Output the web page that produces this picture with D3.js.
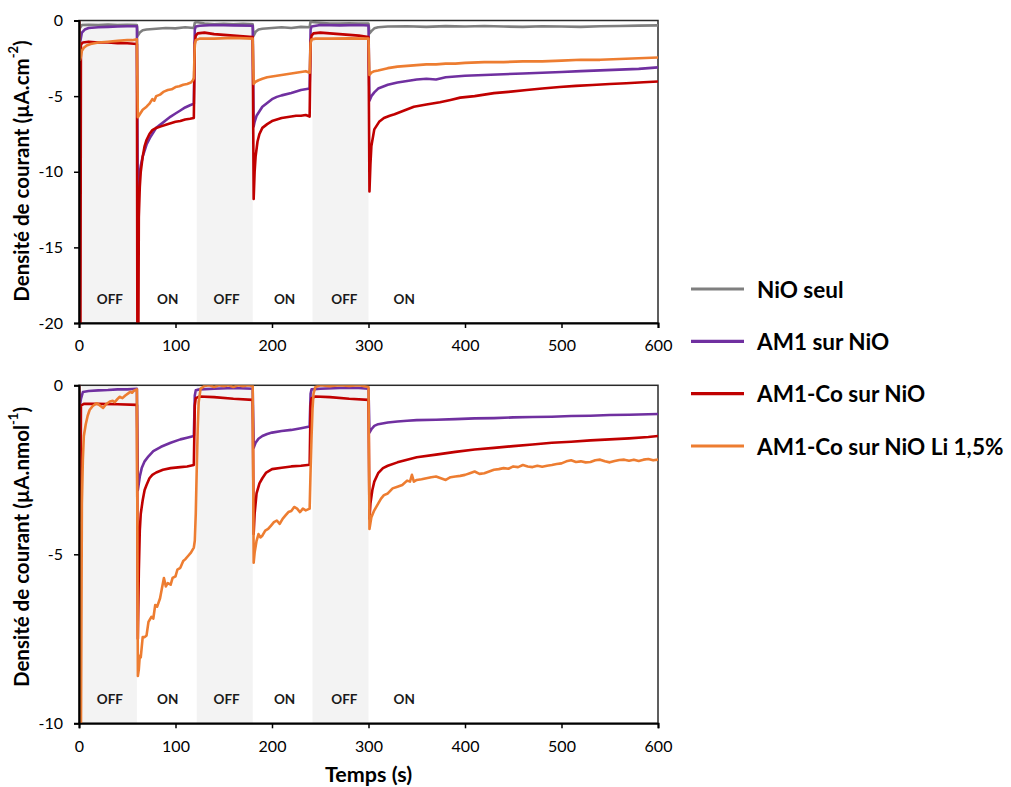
<!DOCTYPE html>
<html><head><meta charset="utf-8">
<script src="https://cdn.jsdelivr.net/npm/d3@7"></script>
<style>body{margin:0;background:#fff;} svg{display:block;}</style>
</head><body>
<svg id="c" width="1011" height="787"></svg>
<script>
// ---------- data ----------
const seriesNames = ["NiO seul", "AM1 sur NiO", "AM1-Co sur NiO", "AM1-Co sur NiO Li 1,5%"];
const seriesColors = ["#7f7f7f", "#7030a0", "#c00000", "#ed7d31"];
const xTicks = [0, 100, 200, 300, 400, 500, 600];
const yTicksTop = [0, -5, -10, -15, -20];
const yTicksBottom = [0, -5, -10];
const offBands = [[3, 60], [122, 180], [242, 300]];
const phaseLabels = ["OFF", "ON", "OFF", "ON", "OFF", "ON"];
const phaseLabelTimes = [32, 92, 153, 213, 275, 337];

// top panel (µA.cm-2) : [time s, current]
const topNiO = [[0,0],[1,-0.5],[3,-0.3],[10,-0.28],[20,-0.3],[30,-0.27],[40,-0.3],[50,-0.28],[60,-0.3],[61,-1.0],[63,-0.8],[66,-0.65],[70,-0.6],[80,-0.55],[90,-0.5],[100,-0.52],[110,-0.45],[119,-0.5],[120,-0.15],[122,-0.1],[130,-0.2],[140,-0.25],[150,-0.22],[160,-0.25],[170,-0.22],[180,-0.25],[181,-1.0],[183,-0.75],[186,-0.6],[190,-0.55],[200,-0.5],[210,-0.45],[220,-0.5],[230,-0.42],[239,-0.45],[240,-0.05],[242,-0.1],[250,-0.15],[260,-0.2],[270,-0.2],[280,-0.18],[290,-0.2],[300,-0.2],[301,-0.85],[303,-0.7],[306,-0.52],[310,-0.45],[320,-0.4],[340,-0.38],[360,-0.42],[380,-0.37],[400,-0.4],[420,-0.36],[440,-0.4],[460,-0.42],[480,-0.38],[500,-0.4],[520,-0.42],[540,-0.38],[560,-0.36],[580,-0.34],[600,-0.32]];
const topAM1 = [[0,0],[1,-1.5],[3,-0.8],[6,-0.6],[10,-0.5],[20,-0.45],[30,-0.42],[40,-0.4],[50,-0.38],[60,-0.38],[61,-11.8],[62,-10.5],[64,-9.6],[66,-9.0],[70,-8.2],[74,-7.7],[80,-7.1],[85,-6.85],[90,-6.6],[95,-6.35],[100,-6.15],[105,-5.95],[110,-5.75],[115,-5.6],[119,-5.5],[120,-0.6],[121,-0.4],[125,-0.35],[140,-0.3],[160,-0.32],[180,-0.35],[181,-7.0],[182,-6.7],[184,-6.3],[187,-6.0],[190,-5.7],[195,-5.45],[200,-5.2],[205,-5.05],[210,-4.95],[220,-4.8],[230,-4.6],[239,-4.5],[240,-0.6],[241,-0.4],[250,-0.3],[270,-0.32],[290,-0.3],[300,-0.33],[301,-5.3],[303,-5.0],[306,-4.75],[310,-4.5],[320,-4.25],[330,-4.1],[340,-4.0],[350,-3.9],[360,-3.85],[370,-3.9],[380,-3.75],[390,-3.7],[400,-3.65],[420,-3.6],[440,-3.55],[460,-3.5],[480,-3.45],[500,-3.4],[520,-3.35],[540,-3.3],[560,-3.25],[580,-3.2],[600,-3.1]];
const topAM1Co = [[0,0],[0.5,-20.5],[1.5,-20.5],[2,-1.6],[4,-1.45],[10,-1.4],[20,-1.45],[30,-1.45],[40,-1.5],[50,-1.5],[60,-1.55],[60.5,-21],[61.5,-21],[62,-13],[63,-11],[64,-10],[66,-9],[68,-8.3],[70,-7.9],[73,-7.5],[76,-7.25],[80,-7.1],[85,-7.0],[90,-6.9],[95,-6.8],[100,-6.7],[105,-6.65],[110,-6.55],[115,-6.5],[119,-6.45],[120,-1.5],[121,-1.0],[123,-0.85],[130,-0.8],[140,-0.9],[150,-0.95],[160,-1.0],[170,-1.05],[180,-1.1],[181,-11.8],[182,-10],[183,-9],[185,-8],[187,-7.5],[190,-7.1],[195,-6.85],[200,-6.65],[205,-6.55],[210,-6.45],[215,-6.4],[220,-6.35],[225,-6.3],[230,-6.3],[235,-6.25],[239,-6.35],[240,-1.5],[241,-1.0],[243,-0.85],[250,-0.8],[260,-0.85],[270,-0.9],[280,-0.95],[290,-1.0],[300,-1.1],[301,-11.3],[302,-9.5],[303,-8.3],[306,-7.2],[311,-6.7],[316,-6.45],[322,-6.3],[327,-6.2],[335,-6.0],[347,-5.7],[360,-5.55],[374,-5.4],[385,-5.25],[395,-5.1],[410,-5.0],[430,-4.8],[445,-4.72],[464,-4.6],[480,-4.5],[498,-4.4],[515,-4.32],[532,-4.26],[550,-4.2],[567,-4.15],[585,-4.08],[600,-4.03]];
const topLi = [[0,0],[1,-2.6],[2,-2.4],[3,-2.0],[5,-1.8],[8,-1.65],[12,-1.55],[20,-1.45],[30,-1.4],[40,-1.35],[50,-1.3],[55,-1.3],[60,-1.25],[61,-6.4],[63,-6.2],[66,-5.9],[70,-5.7],[73,-5.5],[76,-5.2],[78,-5.3],[80,-5.0],[84,-4.9],[88,-4.7],[92,-4.6],[96,-4.55],[100,-4.4],[104,-4.35],[108,-4.25],[112,-4.2],[116,-4.1],[118,-3.95],[119,-3.8],[120,-1.6],[121,-1.3],[125,-1.2],[140,-1.2],[160,-1.15],[180,-1.2],[181,-4.2],[183,-4.05],[186,-3.95],[190,-3.85],[195,-3.75],[200,-3.7],[205,-3.65],[210,-3.6],[215,-3.55],[220,-3.5],[225,-3.45],[230,-3.4],[235,-3.35],[239,-3.45],[240,-1.5],[241,-1.25],[245,-1.2],[260,-1.2],[280,-1.18],[300,-1.2],[301,-3.6],[303,-3.45],[306,-3.35],[310,-3.3],[320,-3.15],[330,-3.05],[340,-3.0],[350,-2.95],[360,-2.9],[370,-2.9],[380,-2.85],[390,-2.85],[400,-2.8],[420,-2.75],[440,-2.75],[460,-2.7],[480,-2.7],[500,-2.65],[520,-2.6],[540,-2.6],[560,-2.55],[580,-2.5],[600,-2.45]];

// bottom panel (µA.nmol-1) : [time s, current]
const botAM1 = [[0,0],[1,-0.6],[2,-0.4],[4,-0.2],[10,-0.17],[20,-0.15],[30,-0.14],[40,-0.12],[50,-0.12],[60,-0.1],[61,-3.1],[63,-2.7],[65,-2.45],[68,-2.25],[72,-2.1],[77,-1.95],[85,-1.82],[95,-1.7],[105,-1.6],[112,-1.55],[119,-1.5],[120,-0.3],[121,-0.15],[125,-0.12],[140,-0.1],[160,-0.08],[180,-0.1],[181,-1.85],[183,-1.7],[186,-1.58],[190,-1.5],[195,-1.44],[200,-1.4],[210,-1.35],[220,-1.32],[230,-1.27],[239,-1.22],[240,-0.25],[241,-0.12],[250,-0.1],[270,-0.08],[290,-0.08],[300,-0.1],[301,-1.4],[303,-1.3],[306,-1.2],[310,-1.15],[320,-1.1],[330,-1.07],[340,-1.05],[350,-1.03],[370,-1.02],[390,-1.0],[410,-0.98],[430,-0.97],[450,-0.95],[470,-0.94],[490,-0.93],[510,-0.91],[530,-0.9],[550,-0.88],[570,-0.87],[600,-0.85]];
const botAM1Co = [[0,0],[0.5,-4],[1.5,-4],[2,-0.6],[5,-0.55],[20,-0.55],[40,-0.56],[60,-0.58],[61,-7.5],[62,-5.5],[63,-4.3],[64,-3.8],[66,-3.4],[68,-3.1],[70,-2.95],[73,-2.75],[76,-2.65],[80,-2.58],[87,-2.5],[95,-2.45],[105,-2.42],[112,-2.4],[119,-2.36],[120,-0.6],[121,-0.38],[125,-0.33],[140,-0.35],[160,-0.4],[180,-0.43],[181,-4.4],[182,-3.8],[184,-3.2],[187,-2.9],[190,-2.75],[194,-2.58],[200,-2.48],[210,-2.44],[220,-2.4],[230,-2.38],[239,-2.35],[240,-0.6],[241,-0.38],[245,-0.33],[260,-0.35],[280,-0.4],[300,-0.43],[301,-3.95],[302,-3.5],[304,-3.1],[306,-2.85],[310,-2.6],[315,-2.45],[320,-2.38],[330,-2.28],[340,-2.2],[350,-2.13],[370,-2.05],[390,-1.97],[410,-1.9],[430,-1.85],[450,-1.8],[470,-1.75],[490,-1.7],[510,-1.67],[530,-1.63],[550,-1.6],[570,-1.57],[590,-1.53],[600,-1.5]];
const botLi = [[0,0],[0.5,-10.5],[2,-10.5],[3,-3.5],[4,-2.2],[5,-1.5],[7,-1.15],[9,-0.9],[11,-0.73],[14,-0.62],[18,-0.53],[21,-0.58],[25,-0.67],[28,-0.56],[32,-0.48],[35,-0.46],[37,-0.5],[40,-0.4],[42,-0.34],[45,-0.38],[48,-0.3],[51,-0.24],[53,-0.19],[55,-0.22],[57,-0.16],[60,-0.12],[61,-8.6],[62,-8.4],[63,-8.0],[64,-8.05],[66,-7.45],[68,-7.45],[70,-7.4],[72,-7.0],[75,-6.85],[77,-6.9],[79,-6.5],[81,-6.55],[84,-6.3],[86,-6.0],[88,-5.7],[90,-5.95],[92,-5.85],[95,-5.9],[97,-5.7],[100,-5.65],[102,-5.45],[105,-5.4],[108,-5.2],[110,-5.15],[113,-5.05],[116,-4.95],[119,-4.8],[120,-4.6],[121,-3.8],[122,-2.5],[123,-1.3],[124,-0.5],[126,-0.1],[130,-0.02],[135,0.0],[140,-0.05],[145,0.0],[150,-0.03],[155,0.0],[160,-0.05],[165,0.0],[170,-0.03],[175,0.0],[180,-0.02],[181,-5.25],[182,-4.95],[184,-4.6],[186,-4.4],[188,-4.5],[190,-4.45],[193,-4.3],[196,-4.25],[199,-4.15],[202,-4.05],[205,-4.0],[208,-4.1],[211,-3.95],[214,-3.85],[217,-3.75],[220,-3.72],[223,-3.6],[226,-3.65],[229,-3.75],[232,-3.65],[235,-3.7],[239,-3.65],[240,-2.5],[241,-1.5],[242,-0.7],[243,-0.25],[245,-0.05],[250,0.0],[260,-0.03],[270,0.0],[280,-0.02],[290,0.0],[300,-0.05],[301,-4.25],[303,-3.9],[306,-3.7],[310,-3.5],[313,-3.35],[316,-3.25],[320,-3.2],[325,-3.05],[330,-3.0],[335,-2.95],[340,-2.82],[343,-2.85],[345,-2.65],[347,-2.85],[350,-2.8],[355,-2.78],[360,-2.75],[365,-2.72],[370,-2.7],[375,-2.75],[380,-2.8],[385,-2.72],[390,-2.7],[395,-2.68],[400,-2.65],[405,-2.6],[410,-2.55],[415,-2.62],[420,-2.6],[425,-2.55],[430,-2.5],[435,-2.48],[440,-2.45],[445,-2.47],[450,-2.4],[455,-2.42],[460,-2.36],[465,-2.4],[470,-2.42],[475,-2.38],[480,-2.41],[485,-2.38],[490,-2.36],[495,-2.33],[500,-2.31],[505,-2.25],[510,-2.22],[515,-2.27],[520,-2.25],[525,-2.28],[530,-2.27],[535,-2.22],[540,-2.2],[545,-2.25],[550,-2.28],[555,-2.24],[560,-2.21],[565,-2.2],[570,-2.23],[575,-2.2],[580,-2.24],[585,-2.2],[590,-2.18],[595,-2.22],[600,-2.2]];

// ---------- drawing ----------
const svg = d3.select("#c");
const FONT = "Lato, 'Open Sans', sans-serif";
const xLeft = 79, xRight = 658;

function drawPanel(opts) {
  const {top, bottom, yDomain, yTicks, series, titleMain, titleSup, clipId, titleCenter} = opts;
  const x = d3.scaleLinear().domain([0, 600]).range([xLeft, xRight]);
  const y = d3.scaleLinear().domain(yDomain).range([top, bottom]);
  const g = svg.append("g");

  g.append("clipPath").attr("id", clipId).append("rect")
    .attr("x", xLeft).attr("y", top).attr("width", xRight - xLeft).attr("height", bottom - top);

  // OFF bands
  g.selectAll("rect.band").data(offBands).enter().append("rect")
    .attr("class", "band")
    .attr("x", d => x(d[0])).attr("width", d => x(d[1]) - x(d[0]))
    .attr("y", top).attr("height", bottom - top)
    .attr("fill", "#f3f3f3");

  // phase labels
  g.selectAll("text.phase").data(phaseLabels).enter().append("text")
    .attr("class", "phase")
    .attr("x", (d, i) => x(phaseLabelTimes[i]))
    .attr("y", bottom - 19)
    .attr("text-anchor", "middle")
    .attr("font-family", FONT).attr("font-weight", "bold").attr("font-size", 13.5)
    .attr("fill", "#1a1a1a")
    .text(d => d);

  // frame
  g.append("rect").attr("x", xLeft).attr("y", top).attr("width", xRight - xLeft).attr("height", bottom - top)
    .attr("fill", "none").attr("stroke", "#2a2a2a").attr("stroke-width", 1.5);

  // lines
  const line = d3.line().x(d => x(d[0])).y(d => y(d[1]));
  const lg = g.append("g").attr("clip-path", `url(#${clipId})`);
  series.forEach(s => {
    lg.append("path").datum(s.data)
      .attr("d", line).attr("fill", "none")
      .attr("stroke", seriesColors[s.ci]).attr("stroke-width", 2.6)
      .attr("stroke-linejoin", "round");
  });

  // axes
  const xAxis = d3.axisBottom(x).tickValues(xTicks).tickSize(5).tickPadding(12).tickFormat(d3.format("d"));
  const gx = g.append("g").attr("transform", `translate(0,${bottom})`).call(xAxis);
  const yAxis = d3.axisLeft(y).tickValues(yTicks).tickSize(5).tickPadding(11).tickFormat(d => d3.format("d")(d).replace("−", "-"));
  const gy = g.append("g").attr("transform", `translate(${xLeft},0)`).call(yAxis);
  [gx, gy].forEach(a => {
    a.select(".domain").attr("stroke", "#000").attr("stroke-width", 2);
    a.selectAll(".tick line").attr("stroke", "#000").attr("stroke-width", 1.5);
    a.selectAll(".tick text").attr("font-family", FONT).attr("font-size", 16).attr("fill", "#000");
  });

  // y title
  const t = g.append("text")
    .attr("transform", `translate(21,${titleCenter}) rotate(-90)`)
    .attr("text-anchor", "middle").attr("dominant-baseline", "central")
    .attr("font-family", FONT).attr("font-weight", "bold").attr("font-size", 20.5).attr("fill", "#000");
  t.append("tspan").text(titleMain);
  t.append("tspan").attr("baseline-shift", "super").attr("font-size", 13).text(titleSup);
  t.append("tspan").text(")");
  return {x, y};
}

drawPanel({
  top: 20.5, bottom: 323, yDomain: [0, -20], yTicks: yTicksTop, clipId: "clipTop", titleCenter: 171,
  titleMain: "Densité de courant (µA.cm", titleSup: "-2",
  series: [{data: topNiO, ci: 0}, {data: topAM1, ci: 1}, {data: topAM1Co, ci: 2}, {data: topLi, ci: 3}]
});
drawPanel({
  top: 385.3, bottom: 723.3, yDomain: [0, -10], yTicks: yTicksBottom, clipId: "clipBot", titleCenter: 547,
  titleMain: "Densité de courant (µA.nmol", titleSup: "-1",
  series: [{data: botAM1, ci: 1}, {data: botAM1Co, ci: 2}, {data: botLi, ci: 3}]
});

// x title
svg.append("text").attr("x", (xLeft + xRight) / 2).attr("y", 782)
  .attr("text-anchor", "middle").attr("font-family", FONT).attr("font-weight", "bold")
  .attr("font-size", 21.5).attr("fill", "#000").text("Temps (s)");

// legend
const legY = d3.scalePoint().domain(seriesNames).range([289, 446]);
const leg = svg.append("g");
seriesNames.forEach((n, i) => {
  leg.append("line").attr("x1", 691).attr("x2", 744).attr("y1", legY(n)).attr("y2", legY(n))
    .attr("stroke", seriesColors[i]).attr("stroke-width", 3.2);
  leg.append("text").attr("x", 757).attr("y", legY(n)).attr("dominant-baseline", "central")
    .attr("font-family", FONT).attr("font-weight", "bold").attr("font-size", 22.5).attr("fill", "#000")
    .text(n);
});
</script>
</body></html>
